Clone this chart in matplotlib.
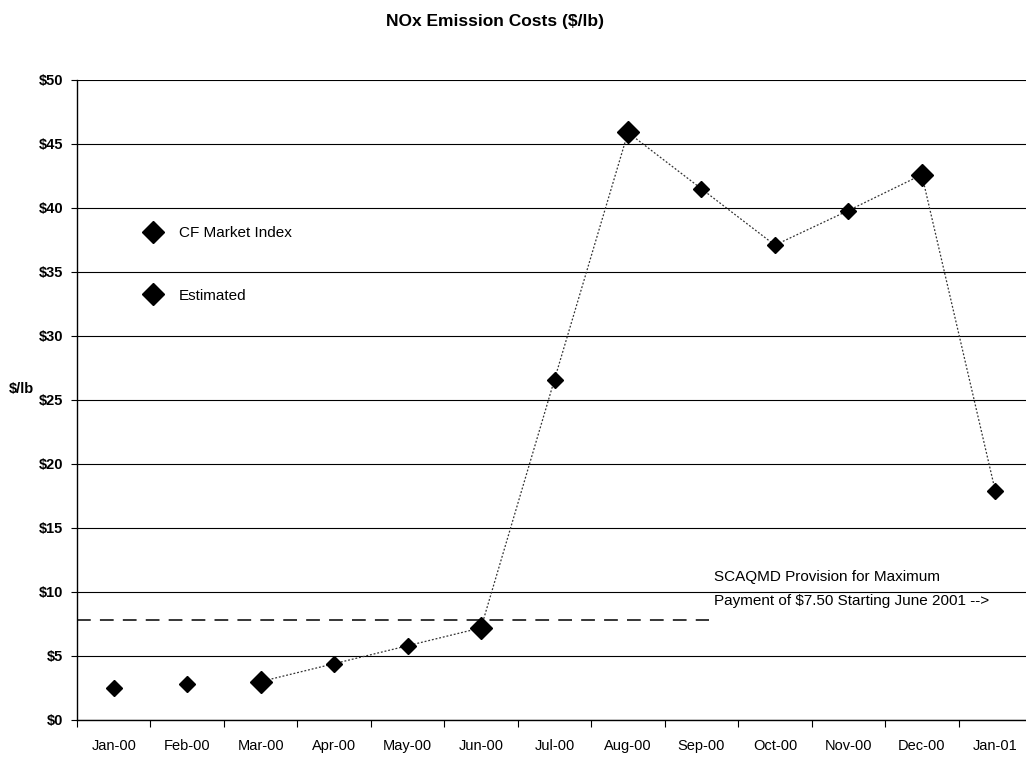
import matplotlib.pyplot as plt
import numpy as np

plt.rcParams['font.family'] = ['Liberation Sans', 'DejaVu Sans']

# Данные
months = ['Jan-00', 'Feb-00', 'Mar-00', 'Apr-00', 'May-00', 'Jun-00', 'Jul-00',
          'Aug-00', 'Sep-00', 'Oct-00', 'Nov-00', 'Dec-00', 'Jan-01']
costs = [2.5, 2.8, 3.0, 4.4, 5.8, 7.2, 26.6, 45.9, 41.5, 37.1, 39.8, 42.6, 17.9]
market_months = ['Mar-00', 'Jun-00', 'Aug-00', 'Dec-00']
provision_level = 7.8
yticks = list(range(0, 51, 5))

x = np.arange(len(months))
is_market = np.array([m in market_months for m in months])
costs = np.array(costs)

fig = plt.figure(figsize=(10.26, 7.61), dpi=100)
ax = fig.add_axes([77 / 1026, 41 / 761, 955 / 1026, 640 / 761])

# пунктирная линия между точками (с марта)
ax.plot(x[2:], costs[2:], color='#333333', lw=0.9, ls=(0, (1.5, 1.5)), zorder=2)

# линия SCAQMD
ax.plot([-0.5, 8.1], [provision_level, provision_level], color='black',
        lw=1.1, dashes=(9, 6), zorder=2)

ax.plot(x[is_market], costs[is_market], 'D', color='black', ms=11.5, zorder=3,
        label='CF Market Index')
ax.plot(x[~is_market], costs[~is_market], 'D', color='black', ms=8.5, zorder=3,
        label='Estimated')

ax.set_xlim(-0.5, len(months) - 0.5)
ax.set_ylim(0, 50)
ax.set_yticks(yticks)
ax.set_yticklabels(['$%d' % v for v in yticks], fontsize=10.5, fontweight='bold')
ax.yaxis.grid(True, color='black', lw=0.8)
ax.set_axisbelow(True)

ax.set_xticks(x)
ax.set_xticklabels(months, fontsize=10.5)
ax.set_xticks(np.arange(-0.5, len(months), 1), minor=True)
ax.tick_params(axis='x', which='major', length=0, pad=14)
ax.tick_params(axis='x', which='minor', length=5, direction='out', width=0.8)
ax.tick_params(axis='y', length=4, direction='out', width=0.8, pad=6)

for s in ['top', 'right']:
    ax.spines[s].set_visible(False)
ax.spines['left'].set_linewidth(1.0)
ax.spines['bottom'].set_linewidth(1.0)

ax.set_ylabel('$/lb', fontsize=10.5, fontweight='bold', rotation=0, va='center',
              ha='center')
ax.yaxis.set_label_coords(-0.0586, 0.517)

fig.text(0.482, 0.972, 'NOx Emission Costs ($/lb)', fontsize=12.5,
         fontweight='bold', ha='center', va='center')

ax.text(8.17, 10.2, 'SCAQMD Provision for Maximum\nPayment of $7.50 Starting June 2001 -->',
        fontsize=11, va='center', ha='left', linespacing=1.9)

leg = ax.legend(loc='upper left', bbox_to_anchor=(0.064, 0.772), frameon=False,
                fontsize=11, labelspacing=3.2, handletextpad=0.65, numpoints=1,
                borderpad=0, borderaxespad=0, handlelength=2)
for h in leg.legend_handles:
    h.set_markersize(11)

plt.savefig('out.png', dpi=100)
